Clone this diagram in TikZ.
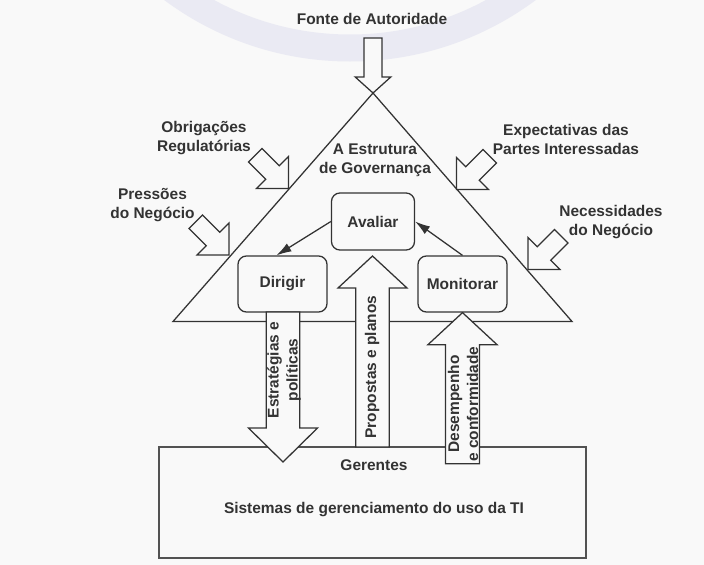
\documentclass[tikz,border=0pt]{standalone}
\usepackage{fontspec}
\setmainfont{Liberation Sans}
\usetikzlibrary{arrows.meta}
\definecolor{bgc}{RGB}{249,249,249}
\definecolor{ink}{RGB}{51,51,51}
\definecolor{markc}{RGB}{234,234,243}
\tikzset{
  box/.style={draw=ink, line width=0.9pt, rounded corners=6pt, fill=bgc,
    minimum width=2.225cm, minimum height=1.4cm},
  blk/.style={draw=ink, line width=0.9pt, fill=bgc, line join=miter},
  link/.style={draw=ink, line width=0.9pt, -{Latex[length=3.75mm,width=2.3mm]}},
}
\begin{document}
\begin{tikzpicture}[x=0.025cm, y=-0.025cm,
    font=\fontsize{11}{13.5}\selectfont\bfseries, text=ink]
    \useasboundingbox (0,0) rectangle (704,565);
    \fill[bgc] (0,0) rectangle (704,565);
    % faint arc at the top
    \draw[markc, line width=0.675cm] (350,-250) circle[radius=298];

    % triangle
    \coordinate (left) at (173,321.5);
    \coordinate (apex) at (373,93);
    \coordinate (right) at (572,321.5);
    \draw[ink, line width=0.9pt] (left) -- (apex) -- (right) -- cycle;

    % bottom box
    \node[draw=ink!85, line width=1.3pt, minimum width=10.675cm, minimum height=2.775cm]
        (sistemas) at (372.5,502.5) {};

    % pressure arrows on the sides
    \foreach \px/\py/\ang in {288.5/188.5/-45, 229/255/-45, 456.5/189.5/-135, 528/269.5/-135}
        \draw[blk, shift={(\px,\py)}, rotate=\ang]
            (0,0) -- (-22.6,22.6) -- (-22.6,9.5) -- (-47,9.5)
            -- (-47,-9.5) -- (-22.6,-9.5) -- (-22.6,-22.6) -- cycle;
    \draw[blk, shift={(apex)}, rotate=-90]
        (0,0) -- (-16,17.8) -- (-16,9) -- (-55,9)
        -- (-55,-9) -- (-16,-9) -- (-16,-17.8) -- cycle;

    % processes
    \node[box, minimum width=2.075cm, minimum height=1.425cm] (avaliar) at (373,221.5) {Avaliar};
    \node[box] (dirigir) at (282.5,284) {Dirigir};
    \node[box] (monitorar) at (462.5,284) {Monitorar};

    % big arrows
    \draw[blk, shift={(283,462)}, rotate=-90]
        (0,0) -- (-34,34.5) -- (-34,16.7) -- (-150,16.7)
        -- (-150,-16.7) -- (-34,-16.7) -- (-34,-34.5) -- cycle;
    \draw[blk, shift={(372.5,256)}, rotate=90]
        (0,0) -- (-32,34.5) -- (-32,16.8) -- (-191,16.8)
        -- (-191,-16.8) -- (-32,-16.8) -- (-32,-34.5) -- cycle;
    \draw[blk, shift={(monitorar.south)}, rotate=90]
        (0,0) -- (-32,34.5) -- (-32,17) -- (-151,17)
        -- (-151,-17) -- (-32,-17) -- (-32,-34.5) -- cycle;

    % labels
    \node (fonte) at (372,19) {Fonte de Autoridade};
    \node[align=center] (obrig) at (204,138) {Obrigações\\Regulatórias};
    \node[align=center] (estrut) at (375,160) {A Estrutura\\de Governança};
    \node[align=center] (expect) at (566,139) {Expectativas das\\Partes Interessadas};
    \node[align=center] (press) at (152.5,205.5) {Pressões\\do Negócio};
    \node[align=center] (necess) at (611,222) {Necessidades\\do Negócio};
    \node[rotate=90, align=center] (estrat) at (284,370) {Estratégias e\\políticas};
    \node[rotate=90] (propos) at (372,367) {Propostas e planos};
    \node[rotate=90, align=center] (desemp) at (463,404) {Desempenho\\e conformidade};
    \node (gerentes) at (374,465) {Gerentes};
    \node (sistxt) at (374,510) {Sistemas de gerenciamento do uso da TI};

    % links between processes
    \draw[link] (avaliar.west) -- ([xshift=-0.15cm]dirigir.north);
    \draw[link] (monitorar.north) -- (avaliar.east);
\end{tikzpicture}
\end{document}
